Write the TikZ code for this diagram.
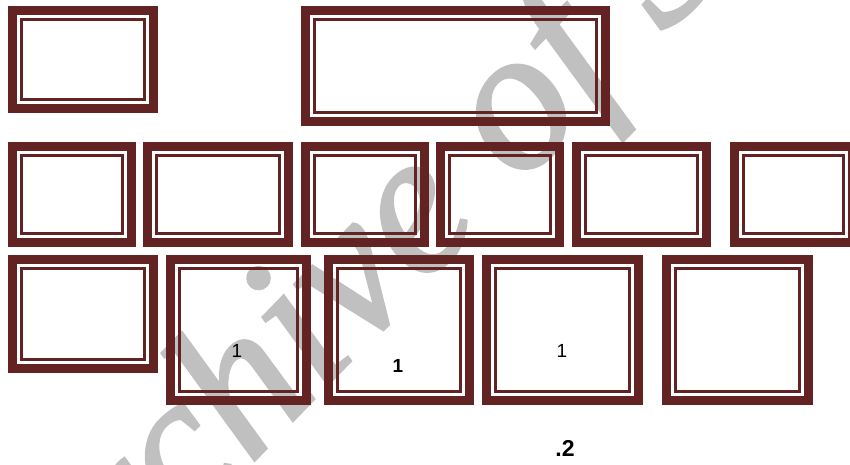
\documentclass[tikz,border=0pt]{standalone}
\usepackage{fontspec}
\usepackage{tikz}
\newfontfamily\numfont{Liberation Sans}
\newfontfamily\markfont[FakeBold=1.5]{Liberation Serif}
\definecolor{framered}{HTML}{642323}
\definecolor{markgray}{HTML}{C0C0C0}
\tikzset{
  framebox/.style 2 args={draw=framered, line width=9pt, inner sep=0pt,
              minimum width=#1pt, minimum height=#2pt,
              path picture={\draw[framered, line width=2.5pt]
                ([shift={(9pt,-9pt)}]path picture bounding box.north west) rectangle
                ([shift={(-9pt,9pt)}]path picture bounding box.south east);}},
  num/.style={font=\numfont\fontsize{19}{19}\selectfont, inner sep=0pt},
  boldnum/.style={num, font=\numfont\bfseries\fontsize{19}{19}\selectfont},
  wmark/.style={font=\markfont\itshape\fontsize{203}{203}\selectfont,
              text=markgray, inner sep=0pt},
}

\begin{document}
\begin{tikzpicture}[x=1pt, y=-1pt]
    \useasboundingbox (0,0) rectangle (850,465);
    \clip (0,0) rectangle (850,465);
    % watermark under the frames
    \node[wmark, rotate=46, anchor=base west] (w) at (51,671) {Archive of SID};
    % top row
    \node[framebox={141}{98}] (t1) at (83,59.5) {};
    \node[framebox={300}{111}] (t2) at (455.5,66) {};
    % middle row
    \node[framebox={119}{96}] (m1) at (72,194.5) {};
    \node[framebox={141}{96}] (m2) at (218,194.5) {};
    \node[framebox={119}{96}] (m3) at (365,194.5) {};
    \node[framebox={119}{96}] (m4) at (500,194.5) {};
    \node[framebox={130}{96}] (m5) at (641.5,194.5) {};
    \node[framebox={118}{96}] (m6) at (793.5,194.5) {};
    % bottom row
    \node[framebox={141}{109}] (b1) at (83,314) {};
    \node[framebox={136}{141}] (b2) at (238.5,330) {};
    \node[framebox={141}{141}] (b3) at (399,330) {};
    \node[framebox={152}{141}] (b4) at (562.5,330) {};
    \node[framebox={142}{141}] (b5) at (737.5,330) {};
    \node[num] (n1) at (237,351) {1};
    \node[boldnum] (n2) at (398,366) {1};
    \node[num] (n3) at (562,351) {1};
    \node[boldnum, font=\numfont\bfseries\fontsize{23}{23}\selectfont] (cap) at (565,448) {.2};
\end{tikzpicture}
\end{document}
